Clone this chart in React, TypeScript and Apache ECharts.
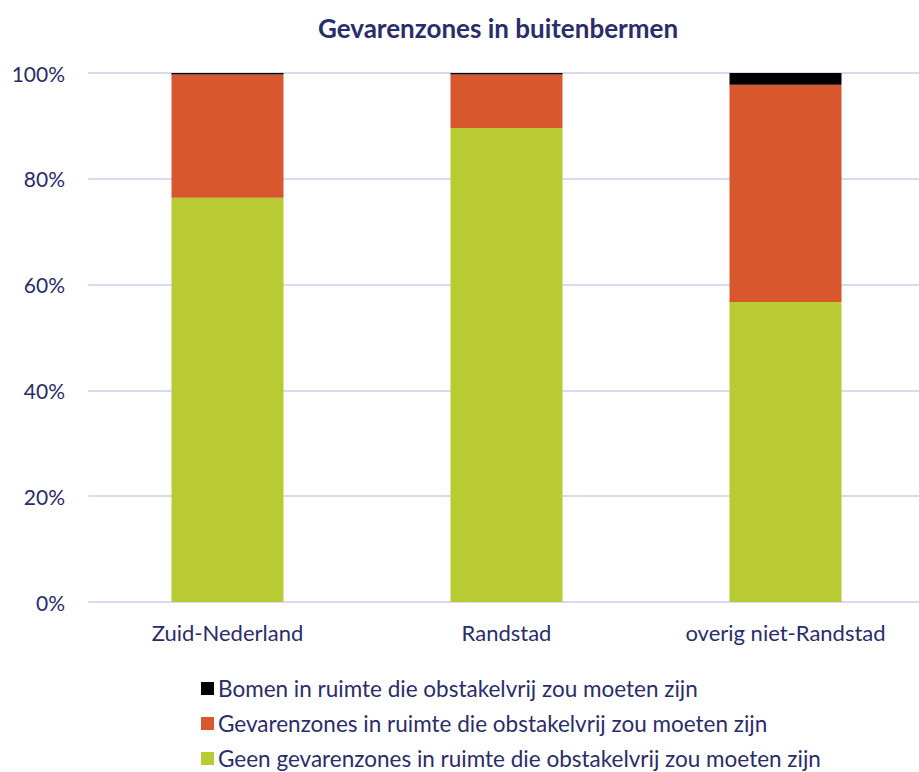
import React, { useEffect, useRef } from "react";
import * as echarts from "echarts";

const categories = ["Zuid-Nederland", "Randstad", "overig niet-Randstad"];
const geenValues = [76.4, 89.6, 56.7];
const gevarenValues = [23.3, 10.1, 41.1];
const bomenValues = [0.3, 0.3, 2.2];
const yTicks = [0, 20, 40, 60, 80, 100];

const seriesNames = [
  "Bomen in ruimte die obstakelvrij zou moeten zijn",
  "Gevarenzones in ruimte die obstakelvrij zou moeten zijn",
  "Geen gevarenzones in ruimte die obstakelvrij zou moeten zijn",
];

const textColor = "#2b2c6a";
const font = "Lato, 'Open Sans', sans-serif";

export default function App() {
  const ref = useRef<HTMLDivElement>(null);
  useEffect(() => {
    if (!ref.current) return;
    const chart = echarts.init(ref.current, undefined, { renderer: "svg" });
    chart.setOption({
      animation: false,
      backgroundColor: "#ffffff",
      title: {
        text: "Gevarenzones in buitenbermen",
        left: 313,
        top: 10,
        textStyle: { color: textColor, fontSize: 26, fontWeight: "bold", fontFamily: font },
      },
      grid: { left: 88, top: 73, right: 0, height: 529, containLabel: false },
      xAxis: {
        type: "category",
        data: categories,
        axisLine: { show: false },
        axisTick: { show: false },
        axisLabel: { color: textColor, fontSize: 22, fontFamily: font, margin: 19 },
      },
      yAxis: {
        type: "value",
        min: 0,
        max: 100,
        interval: 20,
        axisLine: { show: false },
        axisTick: { show: false },
        splitLine: { lineStyle: { color: "#d9d9f0", width: 2 } },
        axisLabel: {
          color: textColor,
          fontSize: 21,
          fontFamily: font,
          margin: 23,
          formatter: (v: number) => (yTicks.includes(v) ? v + "%" : ""),
        },
      },
      legend: {
        orient: "vertical",
        left: 201,
        top: 677,
        padding: 0,
        itemWidth: 13,
        itemHeight: 13,
        itemGap: 12,
        icon: "rect",
        data: seriesNames,
        textStyle: { color: textColor, fontSize: 22.5, fontFamily: font, lineHeight: 22, padding: [0, 0, 0, -1] },
      },
      series: [
        {
          name: seriesNames[2],
          type: "bar",
          stack: "s",
          barWidth: 112,
          data: geenValues,
          itemStyle: { color: "#b8cb33" },
        },
        {
          name: seriesNames[1],
          type: "bar",
          stack: "s",
          barWidth: 112,
          data: gevarenValues,
          itemStyle: { color: "#d9572c" },
        },
        {
          name: seriesNames[0],
          type: "bar",
          stack: "s",
          barWidth: 112,
          data: bomenValues,
          itemStyle: { color: "#000000" },
        },
      ],
    });
    return () => chart.dispose();
  }, []);
  return (
    <div style={{ width: 919, height: 772, position: "absolute", left: 0, top: 0, overflow: "hidden" }}>
      <div ref={ref} style={{ width: 925, height: 772 }} />
    </div>
  );
}
